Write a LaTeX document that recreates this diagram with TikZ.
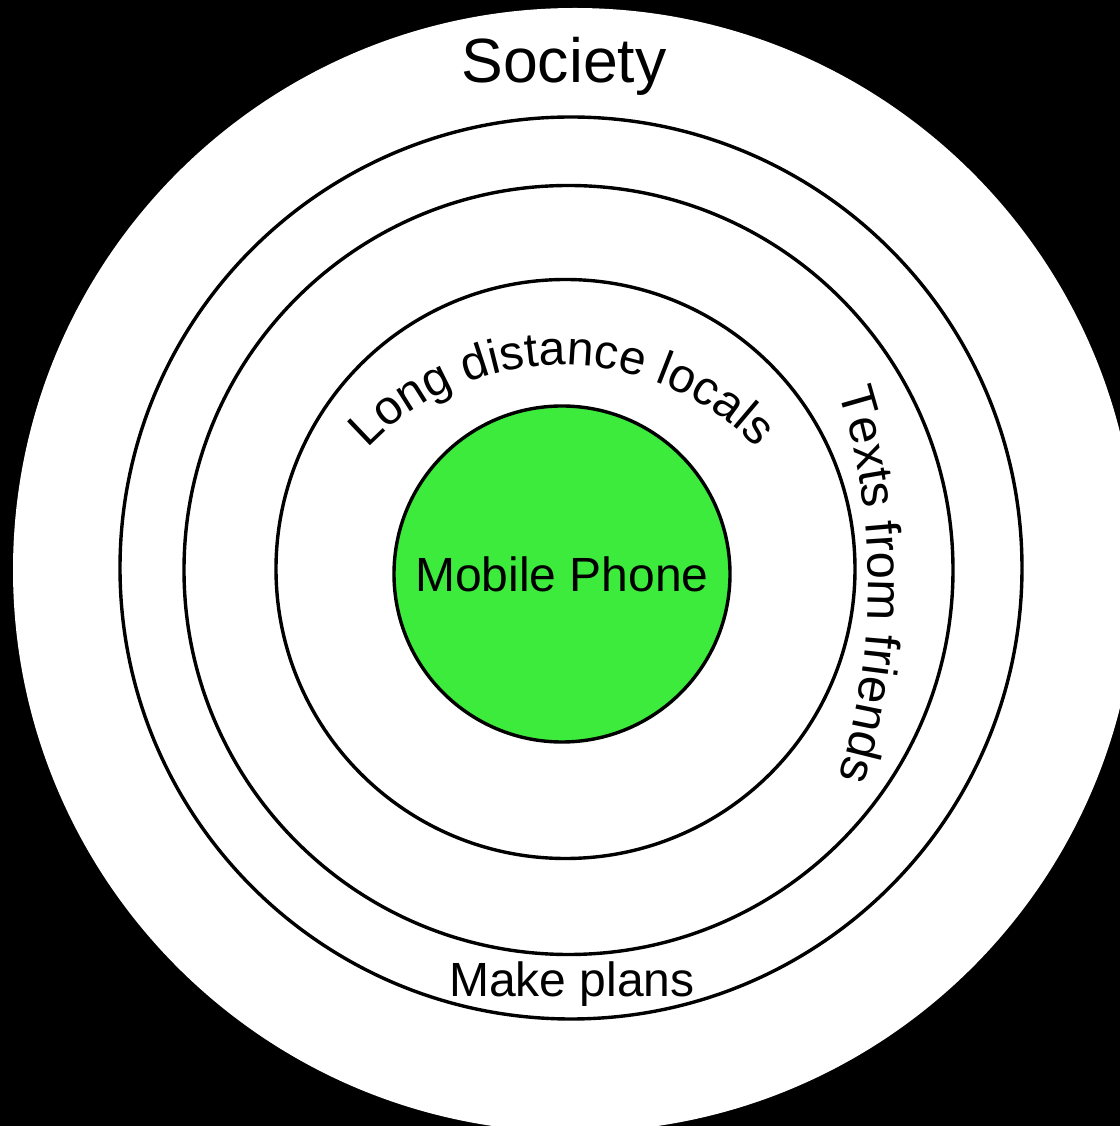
\documentclass[tikz,border=0pt]{standalone}
\usepackage{fontspec}
\setmainfont{Liberation Sans}
\usepackage{xcolor}
\usepackage{tikz}
\usetikzlibrary{decorations.text}
\definecolor{phonegreen}{RGB}{61,235,61}

\begin{document}
\begin{tikzpicture}[x=0.5pt, y=0.5pt,
  ring/.style={draw=black, line width=1.7pt},
  every node/.style={font=\fontsize{24}{29}\selectfont}]
\fill[black] (0,0) rectangle (1120,1126);
\useasboundingbox (0,0) rectangle (1120,1126);
\begin{scope}
  \clip (0,0) rectangle (1120,1126);
  \fill[white] (575,556) circle (562);
\end{scope}
\foreach \cx/\cy/\r in {571/558/451, 568.5/556/384.5, 565.5/557/289.5}{
  \draw[ring] (\cx,\cy) circle (\r);
}
\node[circle, ring, fill=phonegreen, minimum size=168pt, inner sep=0pt] (phone) at (562,552) {Mobile Phone};
\node[anchor=base, font=\fontsize{31.25}{37}\selectfont] (society) at (564,1043) {Society};
\node[anchor=base] (plans) at (572,129) {Make plans};
\path[decorate, decoration={text along path, text align=center,
  text={|\fontsize{24}{29}\selectfont|Long distance locals}}]
  (562,493) ++(136:268) arc (136:44:268);
\path[decorate, decoration={text along path, text align=center,
  text={|\fontsize{24.5}{29}\selectfont|Texts from friends}}]
  (218,541) ++(18:650) arc (18:-18:650);
\end{tikzpicture}
\end{document}
